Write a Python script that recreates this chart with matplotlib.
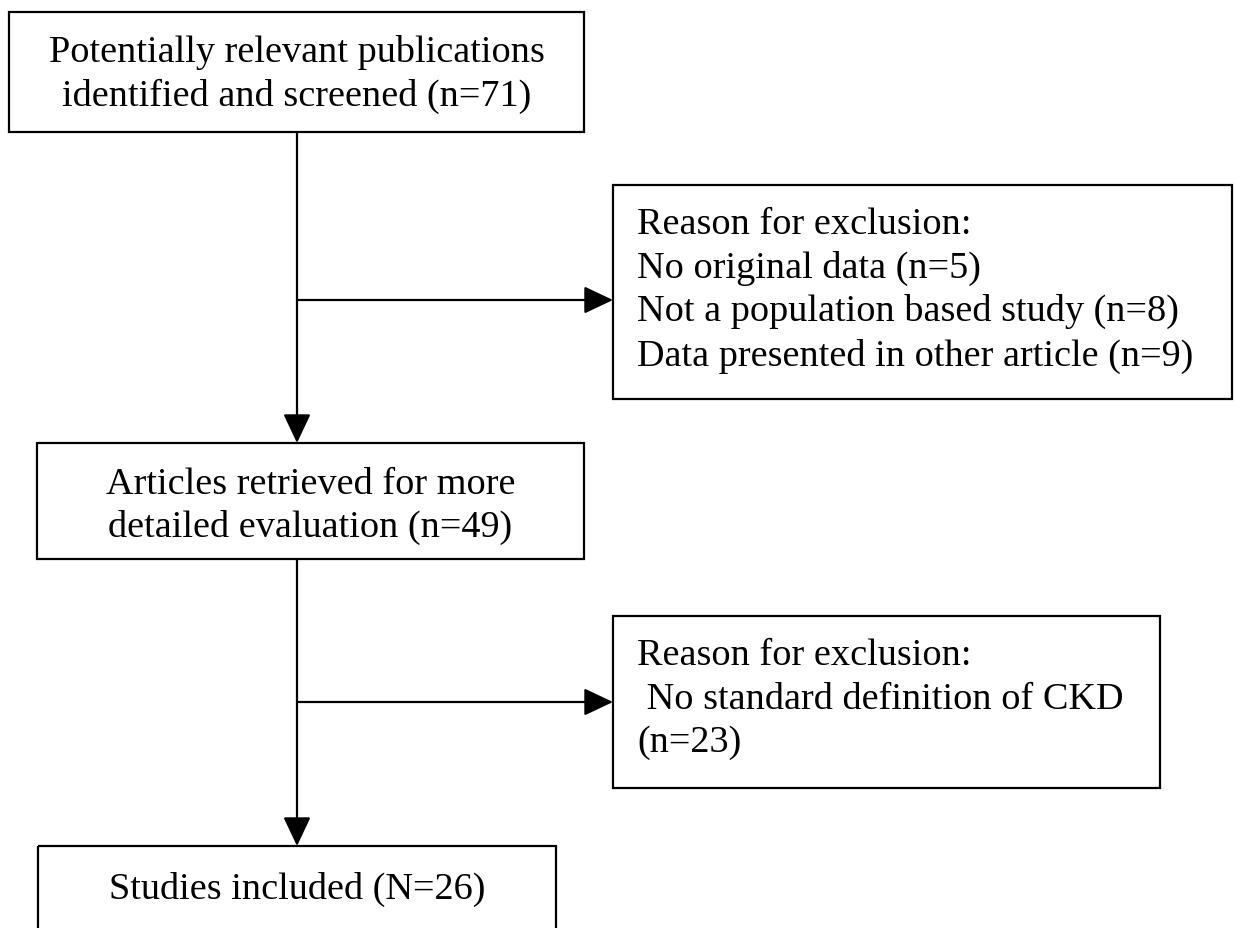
import matplotlib
matplotlib.use("Agg")
import matplotlib.pyplot as plt
from matplotlib.patches import Rectangle

# Texto de cada caja ----------------------------
main_texts = [
    ["Potentially relevant publications", "identified and screened (n=71)"],
    ["Articles retrieved for more", "detailed evaluation (n=49)"],
    ["Studies included (N=26)"],
]
excl_texts = [
    ["Reason for exclusion:", "No original data (n=5)",
     "Not a population based study (n=8)", "Data presented in other article (n=9)"],
    ["Reason for exclusion:", " No standard definition of CKD", "(n=23)"],
]

# Geometria (pixeles, y hacia abajo) ------------
main_boxes = [(9, 13, 584, 133), (37, 444, 584, 560), (38, 847, 556, 980)]
main_base = [[62, 106], [494, 537], [899]]
excl_boxes = [(613, 186, 1232, 400), (613, 617, 1160, 789)]
excl_base = [[234, 278, 321, 366], [665, 709, 752]]
excl_arrow_y = [301, 703]
x_line = 297
x_text_excl = 637

W, H = 1234, 929
fig = plt.figure(figsize=(W / 100, H / 100), dpi=100)
ax = fig.add_axes([0, 0, 1, 1])
ax.set_xlim(0, W)
ax.set_ylim(H, 0)
ax.axis("off")

lw = 1.6
fs = 27.5
font = "Liberation Serif"

def box(b):
    x0, y0, x1, y1 = b
    ax.add_patch(Rectangle((x0, y0), x1 - x0, y1 - y0, fill=False,
                           edgecolor="black", lw=lw))

def arrow(x0, y0, x1, y1):
    ax.annotate("", xy=(x1, y1), xytext=(x0, y0),
                arrowprops=dict(arrowstyle="-|>,head_length=1.8,head_width=0.85",
                                color="black", lw=lw, shrinkA=0, shrinkB=0))

for b, lines, ys in zip(main_boxes, main_texts, main_base):
    box(b)
    cx = (b[0] + b[2]) / 2
    for t, y in zip(lines, ys):
        ax.text(cx, y, t, ha="center", va="baseline", fontsize=fs, family=font)

for b, lines, ys in zip(excl_boxes, excl_texts, excl_base):
    box(b)
    for t, y in zip(lines, ys):
        ax.text(x_text_excl, y, t, ha="left", va="baseline", fontsize=fs, family=font)

# Conectores
for i in range(2):
    top = main_boxes[i][3]
    bottom = main_boxes[i + 1][1]
    arrow(x_line, top, x_line, bottom)
    arrow(x_line, excl_arrow_y[i], excl_boxes[i][0], excl_arrow_y[i])

fig.savefig("out.png", dpi=100, facecolor="white")
